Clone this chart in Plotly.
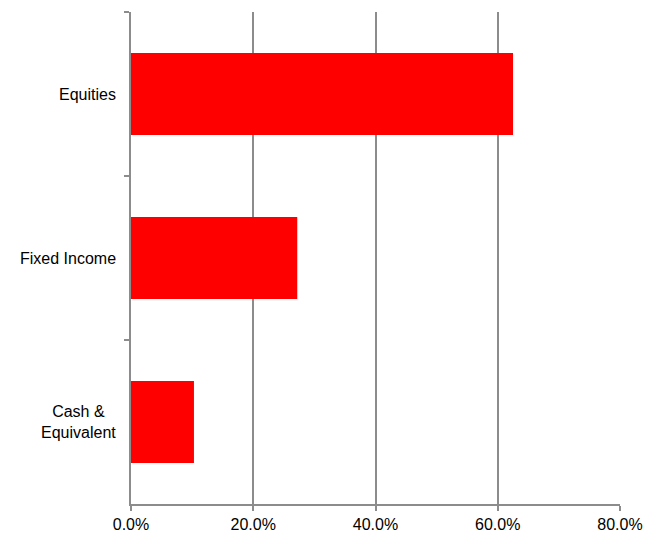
import plotly.graph_objects as go

categories = ["Equities", "Fixed Income", "Cash &<br>Equivalent"]
values = [62.5, 27.2, 10.3]
x_ticks = [0, 20, 40, 60, 80]
x_tick_labels = ["0.0%", "20.0%", "40.0%", "60.0%", "80.0%"]

grid = "#8c8c8c"
font = dict(family="Liberation Sans, Arial, sans-serif", size=16, color="#000000")

fig = go.Figure(go.Bar(
    y=categories, x=values, orientation="h",
    marker=dict(color="#ff0000", line=dict(width=0)),
    hoverinfo="skip",
))

for c in categories:
    fig.add_annotation(
        x=0, xref="paper", y=c, yref="y", text=c, showarrow=False,
        xanchor="right", xshift=-13, align="center", font=font,
    )

fig.update_layout(
    width=647, height=529,
    margin=dict(l=123, r=35, t=4, b=23),
    paper_bgcolor="white", plot_bgcolor="white",
    bargap=0.5, showlegend=False, font=font,
)
fig.update_xaxes(
    range=[0, 80], tickvals=x_ticks, ticktext=x_tick_labels,
    showgrid=True, gridcolor=grid, gridwidth=1.5,
    showline=True, linecolor=grid, linewidth=1.5,
    ticks="outside", ticklen=5, tickcolor=grid, tickwidth=1.5,
    zeroline=False, tickfont=font,
)
fig.update_yaxes(
    categoryorder="array", categoryarray=categories, autorange="reversed",
    showgrid=False, showline=True, linecolor=grid, linewidth=1.5,
    ticks="outside", ticklen=5, tickcolor=grid, tickwidth=1.5,
    tickson="boundaries", showticklabels=False, zeroline=False,
)

fig.write_html("out.html")
